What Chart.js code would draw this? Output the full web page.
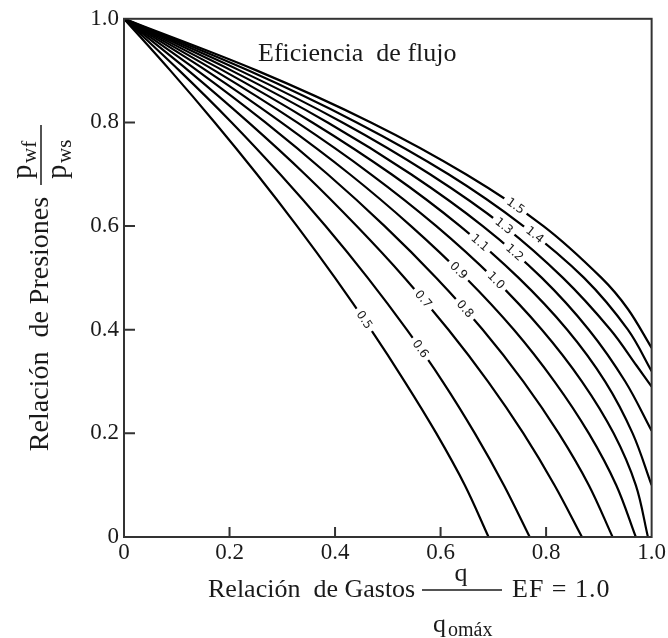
<!DOCTYPE html>
<html>
<head>
<meta charset="UTF-8">
<title>Eficiencia de flujo</title>
<script src="https://cdn.jsdelivr.net/npm/chart.js@4.4.0/dist/chart.umd.min.js"></script>
<style>
   body{margin:0;background:#fff;}
   #wrap{width:668px;height:638px;}
</style>
</head>
<body>
<div id="wrap"><canvas id="chart" width="668" height="638"></canvas></div>
<script>
// eficiencia de flujo (EF) de cada curva
const efNames=["0.5","0.6","0.7","0.8","0.9","1.0","1.1","1.2","1.3","1.4","1.5"];

// puntos [q/qomax, pwf/pws]
const ef05=[[0,1],[0.088,0.9],[0.172,0.8],[0.252,0.7],[0.328,0.6],[0.400,0.5],[0.468,0.4],[0.532,0.3],[0.592,0.2],[0.646,0.1],[0.691,0]];
const ef06=[[0,1],[0.105,0.9],[0.204,0.8],[0.296,0.7],[0.382,0.6],[0.462,0.5],[0.536,0.4],[0.604,0.3],[0.665,0.2],[0.720,0.1],[0.769,0]];
const ef07=[[0,1],[0.122,0.9],[0.236,0.8],[0.343,0.7],[0.441,0.6],[0.532,0.5],[0.615,0.4],[0.690,0.3],[0.757,0.2],[0.816,0.1],[0.868,0]];
const ef08=[[0,1],[0.139,0.9],[0.268,0.8],[0.386,0.7],[0.494,0.6],[0.592,0.5],[0.680,0.4],[0.757,0.3],[0.824,0.2],[0.881,0.1],[0.926,0]];
const ef09=[[0,1],[0.156,0.9],[0.298,0.8],[0.428,0.7],[0.544,0.6],[0.648,0.5],[0.739,0.4],[0.816,0.3],[0.881,0.2],[0.933,0.1],[0.970,0]];
const ef10=[[0,1],[0.172,0.9],[0.328,0.8],[0.468,0.7],[0.592,0.6],[0.700,0.5],[0.792,0.4],[0.868,0.3],[0.928,0.2],[0.970,0.1],[0.993,0]];
const ef11=[[0,1],[0.188,0.9],[0.357,0.8],[0.507,0.7],[0.637,0.6],[0.748,0.5],[0.840,0.4],[0.912,0.3],[0.964,0.2],[1.0,0.10]];
const ef12=[[0,1],[0.204,0.9],[0.386,0.8],[0.544,0.7],[0.680,0.6],[0.792,0.5],[0.881,0.4],[0.950,0.3],[1.0,0.205]];
const ef13=[[0,1],[0.220,0.9],[0.414,0.8],[0.580,0.7],[0.720,0.6],[0.832,0.5],[0.922,0.4],[0.972,0.33],[1.0,0.29]];
const ef14=[[0,1],[0.236,0.9],[0.441,0.8],[0.615,0.7],[0.757,0.6],[0.872,0.5],[0.955,0.4],[1.0,0.32]];
const ef15=[[0,1],[0.252,0.9],[0.468,0.8],[0.648,0.7],[0.795,0.6],[0.905,0.5],[0.955,0.44],[1.0,0.365]];

// altura (pwf/pws) donde va la etiqueta de cada curva
const labelY=[0.419,0.363,0.459,0.440,0.514,0.495,0.568,0.549,0.600,0.583,0.639];

const xTicks=[0,0.2,0.4,0.6,0.8,1.0];
const yTicks=[0,0.2,0.4,0.6,0.8,1.0];

const curves=[ef05,ef06,ef07,ef08,ef09,ef10,ef11,ef12,ef13,ef14,ef15];

const ink="#1a1a1a";
const serif="'Liberation Serif', 'Times New Roman', serif";

function fmt(v){
   return v===0?"0":v.toFixed(1);
}

function bez(P,t,k){
   const u=1-t;
   return u*u*u*P[0][k]+3*u*u*t*P[1][k]+3*u*t*t*P[2][k]+t*t*t*P[3][k];
}
function dbez(P,t,k){
   const u=1-t;
   return 3*u*u*(P[1][k]-P[0][k])+6*u*t*(P[2][k]-P[1][k])+3*t*t*(P[3][k]-P[2][k]);
}

const overlay={
   id:"overlay",
   afterDatasetsDraw(chart){
      const ctx=chart.ctx;
      const ys=chart.scales.y;
      chart.data.datasets.forEach((ds,i)=>{
         const pts=chart.getDatasetMeta(i).data;
         const py=ys.getPixelForValue(labelY[i]);
         for(let k=0;k<pts.length-1;k++){
            const a=pts[k],b=pts[k+1];
            if(py<a.y||py>b.y) continue;
            const P=[[a.x,a.y],
               [a.cp2x??a.x,a.cp2y??a.y],
               [b.cp1x??b.x,b.cp1y??b.y],
               [b.x,b.y]];
            let lo=0,hi=1;
            for(let n=0;n<40;n++){
               const m=(lo+hi)/2;
               if(bez(P,m,1)<py) lo=m; else hi=m;
            }
            const t=(lo+hi)/2;
            const x=bez(P,t,0);
            const ang=Math.atan2(dbez(P,t,1),dbez(P,t,0));
            ctx.save();
            ctx.translate(x,py);
            ctx.rotate(ang);
            ctx.font="12px 'DejaVu Sans', sans-serif";
            const w=ctx.measureText(ds.label).width;
            ctx.fillStyle="#fff";
            ctx.fillRect(-w/2-4,-7,w+8,14);
            ctx.fillStyle=ink;
            ctx.textAlign="center";
            ctx.textBaseline="middle";
            ctx.fillText(ds.label,0,0.5);
            ctx.restore();
            break;
         }
      });
   },
   afterDraw(chart){
      const ctx=chart.ctx;
      const {left,right,top,bottom}=chart.chartArea;
      const xs=chart.scales.x, ys=chart.scales.y;
      ctx.save();
      // marco y marcas hacia adentro
      ctx.strokeStyle="#333";
      ctx.lineWidth=2;
      ctx.strokeRect(left,top,right-left,bottom-top);
      ctx.beginPath();
      xTicks.slice(1,-1).forEach(v=>{
         const px=xs.getPixelForValue(v);
         ctx.moveTo(px,bottom);ctx.lineTo(px,bottom-10);
      });
      yTicks.slice(1,-1).forEach(v=>{
         const py=ys.getPixelForValue(v);
         ctx.moveTo(left,py);ctx.lineTo(left+11,py);
      });
      ctx.stroke();

      ctx.fillStyle=ink;
      ctx.textBaseline="alphabetic";
      ctx.textAlign="left";

      // titulo interior
      ctx.font="26px "+serif;
      ctx.fillText("Eficiencia  de flujo",258,61);

      // titulo eje x
      ctx.fillText("Relación  de Gastos",208,597);
      ctx.textAlign="center";
      ctx.fillText("q",461,581);
      ctx.textAlign="left";
      ctx.fillText("q",433,632);
      ctx.font="20px "+serif;
      ctx.fillText("omáx",448,636);
      ctx.font="26px "+serif;
      ctx.letterSpacing="1px";
      ctx.fillText("EF = 1.0",512,597);
      ctx.letterSpacing="0px";
      ctx.lineWidth=1.5;
      ctx.strokeStyle=ink;
      ctx.beginPath();
      ctx.moveTo(422,590);ctx.lineTo(502,590);
      ctx.stroke();

      // titulo eje y (girado)
      ctx.save();
      ctx.translate(48,324);
      ctx.rotate(-Math.PI/2);
      ctx.textAlign="center";
      ctx.font="28px "+serif;
      ctx.fillText("Relación  de Presiones",0,0);
      ctx.restore();

      ctx.beginPath();
      ctx.moveTo(41,125);ctx.lineTo(41,185);
      ctx.stroke();

      ctx.save();
      ctx.translate(0,184);
      ctx.rotate(-Math.PI/2);
      ctx.textAlign="left";
      ctx.font="29px "+serif;
      ctx.fillText("p",5,31);
      ctx.font="21px "+serif;
      ctx.fillText("wf",21,36);
      ctx.font="29px "+serif;
      ctx.fillText("p",5,66);
      ctx.font="21px "+serif;
      ctx.fillText("ws",21,71);
      ctx.restore();

      ctx.restore();
   }
};

const datasets=curves.map((c,i)=>({
   label:efNames[i],
   data:c.map(p=>({x:p[0],y:p[1]})),
   showLine:true,
   borderColor:"#000",
   borderWidth:2.2,
   pointRadius:0,
   tension:0.35,
   fill:false
}));

const tickFont={family:"Liberation Serif",size:23};

new Chart(document.getElementById("chart"),{
   type:"scatter",
   data:{datasets},
   options:{
      responsive:false,
      animation:false,
      layout:{padding:{left:0,right:16,top:14,bottom:0}},
      plugins:{legend:{display:false},tooltip:{enabled:false}},
      scales:{
         x:{
            type:"linear",min:0,max:1,
            grid:{display:false,drawTicks:false},
            border:{display:false},
            afterBuildTicks(s){s.ticks=xTicks.map(v=>({value:v}));},
            ticks:{padding:2,color:ink,font:tickFont,maxRotation:0,autoSkip:false,callback:v=>fmt(v)},
            afterFit(s){s.height=101;}
         },
         y:{
            type:"linear",min:0,max:1,
            grid:{display:false,drawTicks:false},
            border:{display:false},
            afterBuildTicks(s){s.ticks=yTicks.map(v=>({value:v}));},
            ticks:{padding:5,color:ink,font:tickFont,autoSkip:false,callback:v=>fmt(v)},
            afterFit(s){s.width=124;}
         }
      }
   },
   plugins:[overlay]
});
</script>
</body>
</html>
